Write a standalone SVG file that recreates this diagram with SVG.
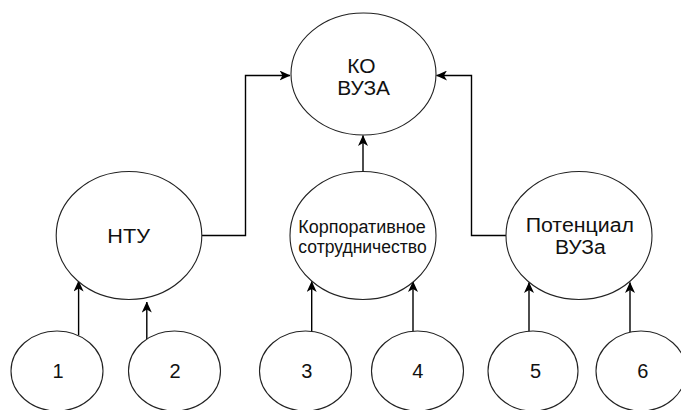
<svg xmlns="http://www.w3.org/2000/svg" width="681" height="410" viewBox="0 0 681 410">
<style>
.node ellipse{fill:#fff;stroke:#222;stroke-width:1.1}
.node text{font-family:"Liberation Sans",Arial,sans-serif;font-size:20px;fill:#111;text-anchor:middle}
.conn path{fill:none;stroke:#000;stroke-width:1.4;marker-end:url(#arr)}
</style>
<defs>
<marker id="arr" markerUnits="userSpaceOnUse" viewBox="0 0 11 10" refX="10.5" refY="5" markerWidth="11" markerHeight="10" orient="auto">
<path d="M11,5 L0,0 L3,5 L0,10 Z" fill="#000"/>
</marker>
</defs>
<rect width="681" height="410" fill="#fff"/>
<g id="connectors" class="conn">
<path d="M201.8,235.5 H245.5 V75.5 H290"/>
<path d="M506,235.5 H471.5 V75.5 H436.5"/>
<path d="M363,171.5 V135.5"/>
<path d="M78.6,335.5 V281"/>
<path d="M146.8,339 V302"/>
<path d="M311.7,331.5 V281.5"/>
<path d="M413,331.5 V281.5"/>
<path d="M529,331.5 V282.5"/>
<path d="M630,332 V282.5"/>
</g>
<g id="ko" class="node"><ellipse cx="363.5" cy="74" rx="72.5" ry="61"/><text x="361.5" y="72.7" textLength="28.3" lengthAdjust="spacingAndGlyphs">КО</text><text x="363.7" y="95" textLength="52.7" lengthAdjust="spacingAndGlyphs">ВУЗА</text></g>
<g id="ntu" class="node"><ellipse cx="129" cy="235.5" rx="72.8" ry="64"/><text x="128.7" y="243.3" textLength="42.7" lengthAdjust="spacingAndGlyphs">НТУ</text></g>
<g id="korp" class="node"><ellipse cx="363" cy="235.5" rx="73" ry="64"/><text x="362" y="232.7" style="font-size:18px" textLength="127.3" lengthAdjust="spacingAndGlyphs">Корпоративное</text><text x="362.5" y="252.5" style="font-size:18px" textLength="128.3" lengthAdjust="spacingAndGlyphs">сотрудничество</text></g>
<g id="pot" class="node"><ellipse cx="579" cy="235.5" rx="73" ry="64"/><text x="579.8" y="231.7" textLength="108.3" lengthAdjust="spacingAndGlyphs">Потенциал</text><text x="580.3" y="254" textLength="50.7" lengthAdjust="spacingAndGlyphs">ВУЗа</text></g>
<g id="n1" class="node"><ellipse cx="57" cy="371" rx="46" ry="40"/><text x="58" y="378.3">1</text></g>
<g id="n2" class="node"><ellipse cx="174.5" cy="371" rx="46" ry="40"/><text x="175" y="378.3">2</text></g>
<g id="n3" class="node"><ellipse cx="305.5" cy="371" rx="46" ry="40"/><text x="306.7" y="378.3">3</text></g>
<g id="n4" class="node"><ellipse cx="417.5" cy="371" rx="46" ry="40"/><text x="417.8" y="378.3">4</text></g>
<g id="n5" class="node"><ellipse cx="533" cy="371" rx="45" ry="40"/><text x="535.5" y="378.3">5</text></g>
<g id="n6" class="node"><ellipse cx="641" cy="371" rx="45" ry="40"/><text x="642.8" y="378.3">6</text></g>
</svg>
